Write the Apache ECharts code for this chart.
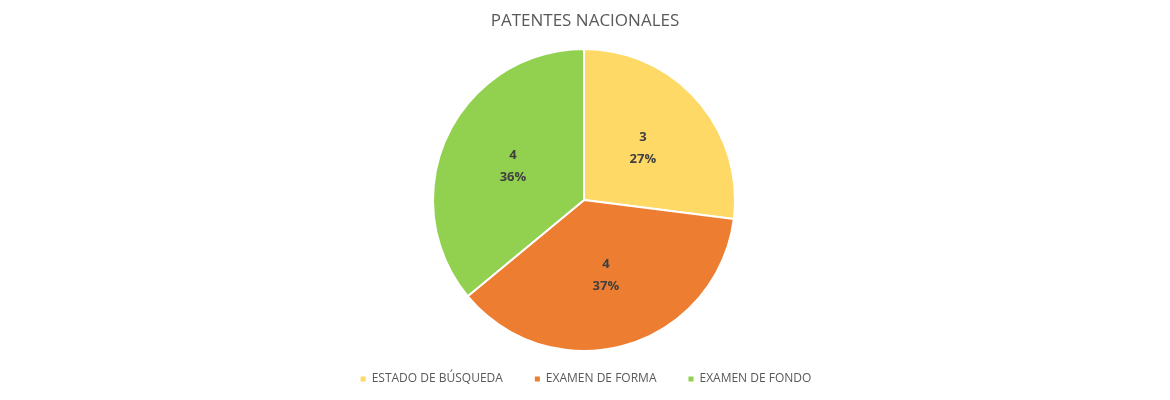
<!DOCTYPE html>
<html>
<head>
<meta charset="utf-8">
<script src="https://cdn.jsdelivr.net/npm/echarts@6/dist/echarts.min.js"></script>
<style>html,body{margin:0;padding:0;background:#fff}#chart{width:1170px;height:400px}</style>
</head>
<body>
<div id="chart"></div>
<script>
// share values (shown rounded in labels)
var categories = ['ESTADO DE BÚSQUEDA', 'EXAMEN DE FORMA', 'EXAMEN DE FONDO'];
var values = [2.7, 3.7, 3.6];
var colors = ['#FFD966', '#ED7D31', '#92D050'];

var chart = echarts.init(document.getElementById('chart'));
var data = categories.map(function (c, i) {
	return { name: c, value: values[i], itemStyle: { color: colors[i] } };
});
chart.setOption({
	animation: false,
	title: {
		text: 'PATENTES NACIONALES',
		left: 'center',
		top: 8,
		textStyle: { fontFamily: 'Open Sans', fontSize: 17, fontWeight: 'normal', color: '#595959' }
	},
	legend: {
		bottom: 10,
		left: 'center',
		icon: 'rect',
		itemWidth: 7,
		itemHeight: 7,
		itemGap: 30,
		textStyle: { fontFamily: 'Open Sans', fontSize: 12, color: '#595959' },
		data: categories
	},
	series: [{
		type: 'pie',
		center: [584, 200],
		radius: [0, 151],
		startAngle: 90,
		itemStyle: { borderColor: '#fff', borderWidth: 2 },
		label: {
			position: 'inside',
			fontFamily: 'Open Sans',
			fontSize: 13,
			fontWeight: 'bold',
			color: '#404040',
			lineHeight: 22,
			formatter: function (p) { return Math.round(p.value) + '\n' + Math.round(p.percent) + '%'; }
		},
		labelLine: { show: false },
		data: data
	}]
});
</script>
</body>
</html>
